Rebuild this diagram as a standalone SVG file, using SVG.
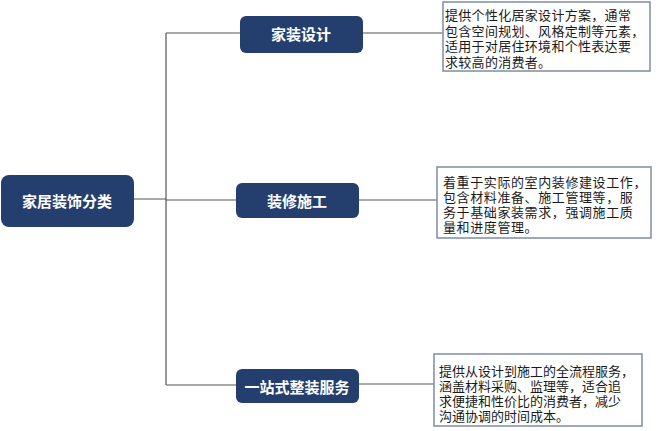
<svg xmlns="http://www.w3.org/2000/svg" width="660" height="431" viewBox="0 0 660 431">
<style>
.node{fill:#243F6E;}
.nt{fill:#ffffff;font-family:"Noto Sans CJK SC","Noto Sans",sans-serif;font-weight:bold;font-size:15px;text-anchor:middle;dominant-baseline:central;}
.desc{fill:#ffffff;stroke:#7D8CA3;stroke-width:1.5;}
.dt{fill:#1a1a1a;font-family:"Liberation Sans","Noto Sans CJK SC",sans-serif;font-size:13px;}
.con{fill:none;stroke:#555555;stroke-width:1.2;}
</style>
<rect width="660" height="431" fill="#ffffff"/>
<g id="connectors">
<path class="con" d="M134 199 H166 M166 33 V385 M166 33 H240 M166 200 H236 M166 385 H236"/>
<path class="con" d="M363 33 H443 M359 200 H437 M359 384 H434"/>
</g>
<g id="root">
<rect class="node" x="1" y="175" width="133" height="52" rx="8"/>
<text class="nt" x="67" y="200">家居装饰分类</text>
</g>
<g id="n1">
<rect class="node" x="240" y="16" width="123" height="37" rx="6"/>
<text class="nt" x="301" y="33">家装设计</text>
</g>
<g id="n2">
<rect class="node" x="236" y="183" width="123" height="35" rx="6"/>
<text class="nt" x="297" y="200">装修施工</text>
</g>
<g id="n3">
<rect class="node" x="236" y="369" width="123" height="34" rx="6"/>
<text class="nt" x="297" y="386">一站式整装服务</text>
</g>
<g id="d1">
<rect class="desc" x="443" y="2" width="207" height="69"/>
<text class="dt" font-size="13.5" letter-spacing="0.3" x="445" y="20">提供个性化居家设计方案，通常</text>
<text class="dt" font-size="13.5" letter-spacing="0.3" x="445" y="35.5">包含空间规划、风格定制等元素，</text>
<text class="dt" font-size="13.5" letter-spacing="0.3" x="445" y="51">适用于对居住环境和个性表达要</text>
<text class="dt" font-size="13.5" letter-spacing="0.3" x="445" y="66.5">求较高的消费者。</text>
</g>
<g id="d2">
<rect class="desc" x="437" y="167" width="214" height="71"/>
<text class="dt" letter-spacing="0.6" x="443" y="187">着重于实际的室内装修建设工作，</text>
<text class="dt" letter-spacing="0.6" x="443" y="202">包含材料准备、施工管理等，服</text>
<text class="dt" letter-spacing="0.6" x="443" y="217">务于基础家装需求，强调施工质</text>
<text class="dt" letter-spacing="0.6" x="443" y="232">量和进度管理。</text>
</g>
<g id="d3">
<rect class="desc" x="434" y="354" width="208" height="72"/>
<text class="dt" font-size="12.8" x="439" y="376">提供从设计到施工的全流程服务，</text>
<text class="dt" font-size="12.8" x="439" y="391">涵盖材料采购、监理等，适合追</text>
<text class="dt" font-size="12.8" x="439" y="406">求便捷和性价比的消费者，减少</text>
<text class="dt" font-size="12.8" x="439" y="421">沟通协调的时间成本。</text>
</g>
</svg>
